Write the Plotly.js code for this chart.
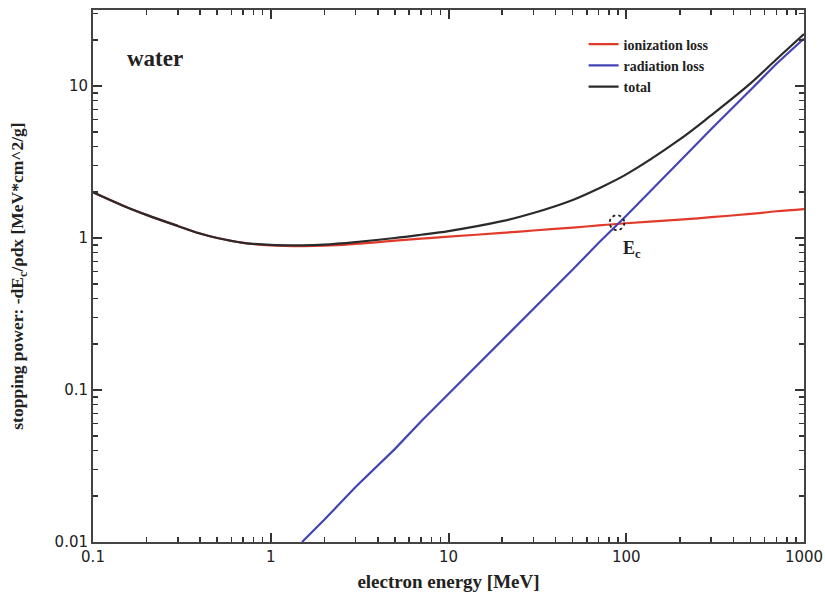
<!DOCTYPE html>
<html>
<head>
<meta charset="utf-8">
<script src="https://cdn.plot.ly/plotly-3.0.1.min.js"></script>
<style>html,body{margin:0;padding:0;background:#fff;}#chart{width:825px;height:601px;}</style>
</head>
<body>
<div id="chart"></div>
<script>
// Electron energy grid (MeV)
const energyIon = [0.1,0.15,0.2,0.3,0.4,0.5,0.7,1,1.5,2,3,5,7,10,20,30,50,70,100,200,300,500,700,1000];
// Ionization loss (MeV cm^2/g)
const ionLoss = [2.0,1.62,1.42,1.2,1.07,1.0,0.93,0.895,0.885,0.89,0.915,0.96,0.99,1.02,1.08,1.12,1.17,1.21,1.25,1.32,1.37,1.44,1.5,1.55];
// Radiation loss
const energyRad = [1.5,2,3,5,7,10,20,30,50,70,100,200,300,500,700,1000];
const radLoss = [0.01,0.014,0.023,0.041,0.062,0.094,0.21,0.34,0.62,0.93,1.4,3.2,5.2,9.4,14.0,20.5];
// Total
const energyTot = energyIon;
const totLoss = [2.0,1.62,1.42,1.2,1.07,1.0,0.93,0.9,0.895,0.905,0.94,1.0,1.05,1.11,1.29,1.46,1.78,2.12,2.62,4.45,6.4,10.4,15.0,22];
// Critical energy marker
const ecEnergy = [88.7];
const ecLoss = [1.26];
const seriesNames = ['ionization loss','radiation loss','total'];

const serif = 'Liberation Serif, Times New Roman, serif';
const tickFont = {family:'DejaVu Sans, sans-serif', size:15, color:'#222'};

const traces = [
  {x:energyIon, y:ionLoss, name:seriesNames[0], mode:'lines', line:{color:'#e23a2a', width:2.2, shape:'spline'}},
  {x:energyRad, y:radLoss, name:seriesNames[1], mode:'lines', line:{color:'#4444b4', width:2.2}},
  {x:energyTot, y:totLoss, name:seriesNames[2], mode:'lines', line:{color:'#2a2a2a', width:2.2, shape:'spline'}}
];

const axisCommon = {
  type:'log', showgrid:false, zeroline:false, showline:true, linecolor:'#444', linewidth:2,
  mirror:'allticks', ticks:'inside', ticklen:9, tickwidth:2, tickcolor:'#333',
  tickfont:tickFont, tickmode:'linear', tick0:0, dtick:1, exponentformat:'none',
  minor:{ticks:'inside', dtick:'D1', ticklen:5, tickwidth:1.5, tickcolor:'#333', showgrid:false}
};

const layout = {
  width:825, height:601,
  margin:{l:93, r:21, t:10, b:59},
  paper_bgcolor:'#fff', plot_bgcolor:'#fff',
  showlegend:true,
  legend:{x:0.69, y:0.965, xanchor:'left', yanchor:'top', bgcolor:'rgba(0,0,0,0)',
          font:{family:serif, size:14, color:'#222', weight:'bold'}, tracegroupgap:0, itemwidth:30},
  xaxis:Object.assign({}, axisCommon, {
    range:[-1,3],
    title:{text:'electron energy [MeV]', font:{family:serif, size:19, color:'#222', weight:'bold'}, standoff:10}
  }),
  yaxis:Object.assign({}, axisCommon, {
    range:[-2,1.5],
    title:{text:'stopping power: -dE<sub>c</sub>/ρdx [MeV*cm^2/g]', font:{family:serif, size:17.5, color:'#222', weight:'bold'}, standoff:26}
  }),
  annotations:[
    {xref:'paper', yref:'paper', x:0.045, y:0.908, xanchor:'left', yanchor:'middle', showarrow:false,
     text:'water', font:{family:serif, size:23, color:'#222', weight:'bold'}},
    {xref:'x', yref:'y', x:Math.log10(ecEnergy[0]), y:Math.log10(ecLoss[0]), xanchor:'left', yanchor:'top',
     xshift:4, yshift:-13, showarrow:false,
     text:'E<sub>c</sub>', font:{family:serif, size:18, color:'#222', weight:'bold'}}
  ],
  shapes:[
    {type:'circle', xref:'x', yref:'y', layer:'above',
     x0:ecEnergy[0]/1.1, x1:ecEnergy[0]*1.1, y0:ecLoss[0]/1.12, y1:ecLoss[0]*1.12,
     line:{color:'#222', width:1.8, dash:'dot'}}
  ]
};

Plotly.newPlot('chart', traces, layout, {displayModeBar:false, staticPlot:true});
</script>
</body>
</html>
